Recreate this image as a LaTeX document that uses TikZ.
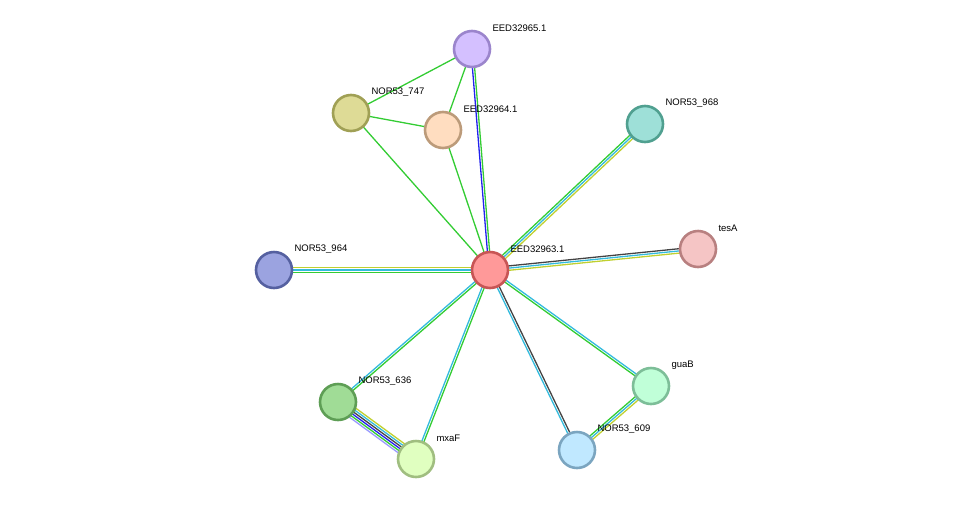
\documentclass[tikz,border=0pt]{standalone}
\usepackage{fontspec}
\setmainfont{Liberation Sans}
\usetikzlibrary{calc,backgrounds}
\definecolor{cg}{HTML}{33CC33}
\definecolor{cb}{HTML}{2222EE}
\definecolor{ck}{HTML}{444444}
\definecolor{cc}{HTML}{33BBDD}
\definecolor{cl}{HTML}{C0D030}
\definecolor{cv}{HTML}{9999FF}
\newcommand\medge[4]{%
  \foreach \c [count=\i] in {#4} {%
    \pgfmathsetmacro\o{(\i-(#3+1)/2)*2.2}%
    \draw[line width=1.3pt,\c] ($(#1)!\o pt!90:(#2)$) -- ($(#2)!\o pt!-90:(#1)$);
  }}
\tikzset{prot/.style n args={2}{circle,minimum size=36pt,inner sep=0pt,line width=2.6pt,fill=#1,draw=#2},
  lab/.style={anchor=west,font=\fontsize{9.5}{11}\selectfont}}
\begin{document}
\begin{tikzpicture}[x=1pt,y=-1pt]
\useasboundingbox (0,0) rectangle (976,504);
\def\P#1#2#3#4#5#6{\definecolor{f#1}{HTML}{#5}\definecolor{d#1}{HTML}{#6}
  \node[prot={f#1}{d#1}] (#1) at (#3,#4) {};
  \node[lab] (l#1) at ($(#3,#4)+(17,-21)$) {#2};}
\P{a}{EED32963.1}{490}{270}{FF9999}{C85555}
\P{b}{EED32965.1}{472}{49}{D4C0FF}{9B85CC}
\P{c}{NOR53\_747}{351}{113}{DEDB96}{A0A055}
\P{d}{EED32964.1}{443}{130}{FFDDC0}{BC9B7A}
\P{e}{NOR53\_968}{645}{124}{9EE0D8}{50A090}
\P{f}{tesA}{698}{249}{F5C5C5}{B88080}
\P{g}{NOR53\_964}{274}{270}{9BA3E0}{5560A0}
\P{h}{NOR53\_636}{338}{402}{A0DC96}{5E9E55}
\P{i}{mxaF}{416}{459}{E0FFC0}{A0BE80}
\P{j}{guaB}{651}{386}{C0FFD8}{7DBE98}
\P{k}{NOR53\_609}{577}{450}{C0E8FF}{7BA5C0}
\begin{pgfonlayer}{background}
\medge{a}{b}{2}{cg,cb}
\medge{a}{c}{1}{cg}
\medge{a}{d}{1}{cg}
\medge{b}{c}{1}{cg}
\medge{b}{d}{1}{cg}
\medge{c}{d}{1}{cg}
\medge{a}{e}{3}{cl,cc,cg}
\medge{a}{f}{3}{cl,cc,ck}
\medge{g}{a}{3}{cg,cc,cl}
\medge{h}{a}{2}{cg,cc}
\medge{i}{a}{2}{cg,cc}
\medge{a}{k}{2}{cc,ck}
\medge{a}{j}{2}{cg,cc}
\medge{h}{i}{6}{cv,cg,cb,ck,cc,cl}
\medge{k}{j}{3}{cl,cc,cg}
\end{pgfonlayer}
\end{tikzpicture}
\end{document}
